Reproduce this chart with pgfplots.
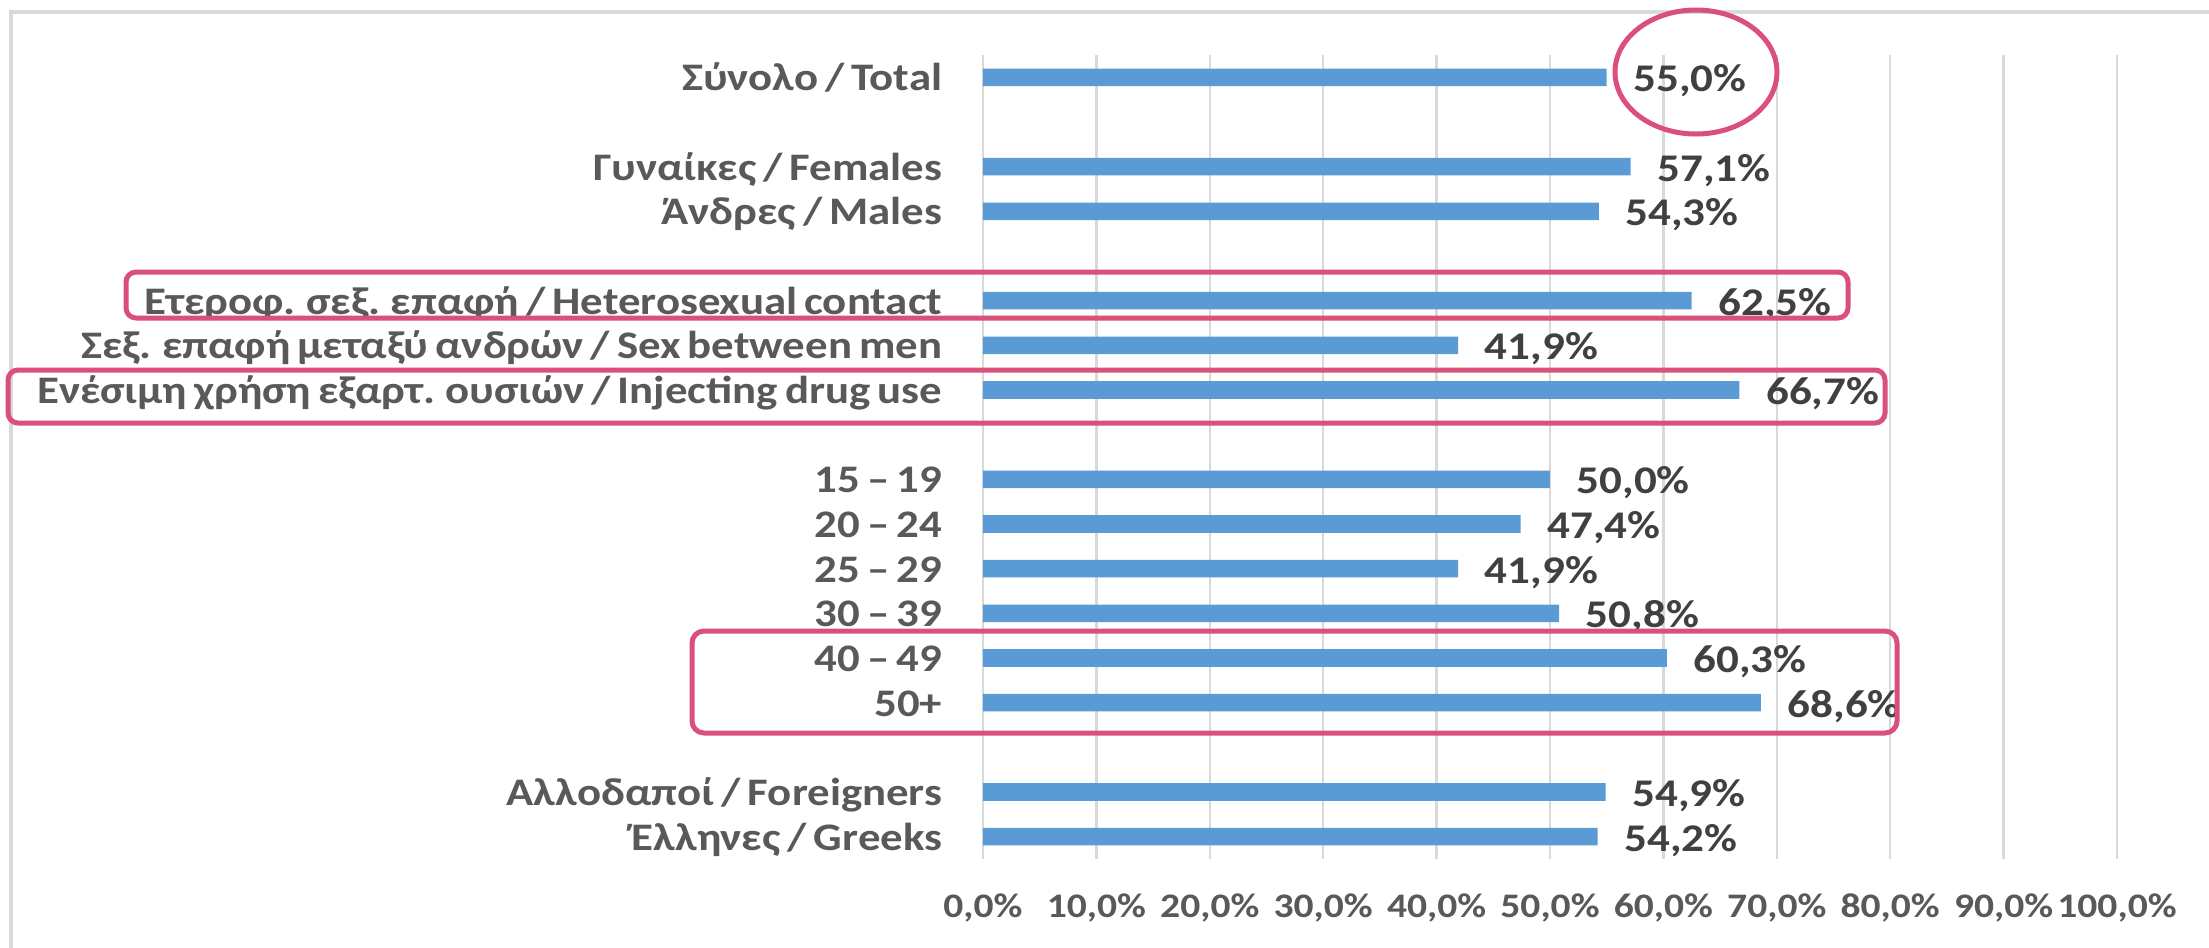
\documentclass[border=0pt]{standalone}
\usepackage{pgfplots}
\pgfplotsset{compat=1.18}
\usepackage{fontspec}
\setmainfont{Carlito}[FakeStretch=1.15]
\definecolor{barblue}{HTML}{5B9BD5}
\definecolor{labgray}{HTML}{595959}
\definecolor{valgray}{HTML}{404040}
\definecolor{gridgray}{HTML}{D9D9D9}
\definecolor{pinkann}{RGB}{219,80,122}
\newcommand\labfont{\fontsize{9.75pt}{11pt}\selectfont\bfseries\spaceskip=0.18em plus 0.05em minus 0.02em\relax}
\pgfplotstableread{
pos val
0 55.0
2 57.1
3 54.3
5 62.5
6 41.9
7 66.7
9 50.0
10 47.4
11 41.9
12 50.8
13 60.3
14 68.6
16 54.9
17 54.2
}\datatable
\begin{document}
\begin{tikzpicture}
\path[use as bounding box] (0,0) rectangle (552.25pt,236.75pt);
\begin{scope}[x=0.25pt,y=-0.25pt,shift={(0pt,236.75pt)}]
\draw[gridgray, line width=1pt] (11,12) rectangle (2500,1200);
\end{scope}
\begin{axis}[
  at={(245.75pt,22pt)}, anchor=south west,
  scale only axis, width=283.5pt, height=201pt,
  xbar, bar width=4.4pt,
  xmin=0, xmax=100,
  ymin=-0.5, ymax=17.5, y dir=reverse,
  axis line style={draw=none},
  major tick length=0,
  xmajorgrids, grid style={gridgray, line width=0.6pt},
  xtick={0,10,...,100},
  xticklabels={{0,0\%},{10,0\%},{20,0\%},{30,0\%},{40,0\%},{50,0\%},{60,0\%},{70,0\%},{80,0\%},{90,0\%},{100,0\%}},
  xticklabel style={font=\fontsize{8.6pt}{10pt}\selectfont\bfseries, text=labgray, anchor=base, inner sep=0pt, yshift=-14.5pt},
  ytick={0,2,3,5,6,7,9,10,11,12,13,14,16,17},
  yticklabels={Σύνολο / Total, Γυναίκες / Females, Άνδρες / Males, Ετεροφ. σεξ. επαφή / Heterosexual contact, Σεξ. επαφή μεταξύ ανδρών / Sex between men, Ενέσιμη χρήση εξαρτ. ουσιών / Injecting drug use, 15 – 19, 20 – 24, 25 – 29, 30 – 39, 40 – 49, 50+, Αλλοδαποί / Foreigners, Έλληνες / Greeks},
  yticklabel style={font=\labfont, text=labgray, anchor=base east, inner sep=0pt, xshift=-10pt, yshift=-3.4pt},
  /pgf/number format/assume math mode=true,
  point meta=x,
  nodes near coords={\pgfmathprintnumber[fixed,fixed zerofill,precision=1,use comma]{\pgfplotspointmeta}\%},
  every node near coord/.append style={font=\fontsize{9.8pt}{12pt}\selectfont\bfseries, text=valgray, anchor=base west, inner sep=0pt, xshift=6.5pt, yshift=-3.6pt},
  clip=false,
]
\addplot[fill=barblue, draw=none] table[x=val, y=pos] {\datatable};
\end{axis}
\begin{scope}[x=0.25pt,y=-0.25pt,shift={(0pt,236.75pt)}]
\draw[pinkann, line width=1.25pt] (1696,72) ellipse [x radius=81, y radius=62];
\draw[pinkann, line width=1.25pt, rounded corners=2.5pt] (126,272) rectangle (1848,318);
\draw[pinkann, line width=1.25pt, rounded corners=2.5pt] (8,370) rectangle (1885,423);
\draw[pinkann, line width=1.25pt, rounded corners=3pt] (692,631) rectangle (1897,733);
\end{scope}
\end{tikzpicture}
\end{document}
